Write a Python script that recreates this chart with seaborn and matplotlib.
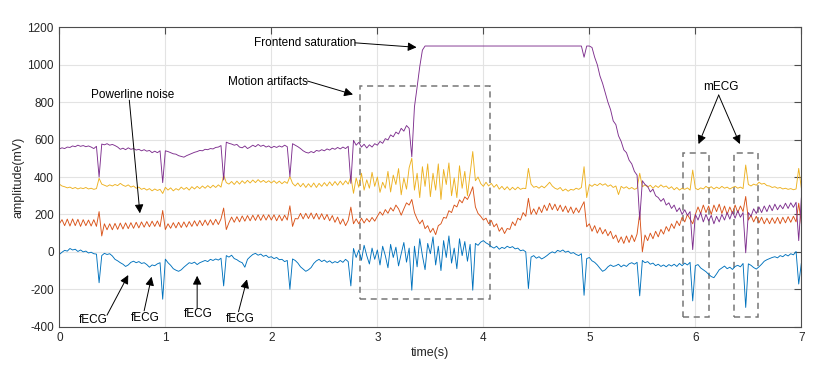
import matplotlib
matplotlib.use("Agg")
import matplotlib.pyplot as plt
from matplotlib.patches import Rectangle
import numpy as np
import pandas as pd
import seaborn as sns

# time axis: 0 .. 7 s, one sample every 25 ms (281 samples)
time_s = np.round(np.arange(281) * 0.025, 3)

# fECG-dominant channel (blue)
ch_blue = [
    -14, -2, 8, 4, 18, 10, 14, 2, 10, 0, 4, -6, -2, -10, -12, -165, -20, -8, -14, -10,
    -22, -40, -48, -58, -66, -78, -70, -56, -50, -58, -52, -62, -58, -68, -82, -70, -74, -64, -58, -253,
    -39, -58, -72, -90, -98, -104, -96, -82, -70, -58, -62, -55, -68, -58, -52, -46, -52, -40, -46, -38,
    -44, -34, -182, -20, -28, -18, -36, -42, -52, -58, -82, -40, -26, -14, -8, -18, -12, -24, -18, -30,
    -26, -36, -30, -42, -40, -52, -46, -200, -38, -46, -60, -80, -92, -104, -96, -84, -62, -48, -40, -52,
    -44, -56, -48, -60, -52, -58, -46, -56, -40, -52, -182, 18, -30, 10, -45, 35, -20, -65, 20, -40,
    10, -70, 30, -20, -85, 40, -30, 25, -75, -10, 50, -55, 20, -205, 30, -80, 70, -20, -95, 45,
    -10, 80, -70, 30, -100, 60, -30, 85, -60, 20, -90, 70, -20, 55, -50, 40, -205, 45, 35, 52,
    60, 48, 40, 28, 20, 30, 14, 24, 18, 30, 22, 28, 16, 20, 6, 10, 0, -196, -28, -20,
    -34, -26, -38, -30, -20, -8, 0, -6, 8, 2, 10, -2, 4, -8, -4, -14, -20, -10, -232, -36,
    -30, -48, -56, -70, -88, -104, -96, -80, -70, -78, -74, -66, -80, -70, -78, -64, -58, -66, -56, -235,
    -46, -58, -52, -66, -60, -74, -66, -78, -70, -80, -68, -76, -66, -78, -62, -74, -60, -70, -56, -262,
    -74, -68, -86, -96, -106, -120, -132, -138, -118, -96, -86, -76, -90, -82, -94, -78, -72, -80, -62, -297,
    -64, -72, -84, -92, -80, -66, -50, -42, -36, -30, -26, -32, -20, -26, -14, -22, -10, -16, 2, -172,
    -60,
]

# channel with powerline interference (orange)
ch_orange = [
    150, 172, 140, 175, 138, 176, 140, 174, 136, 172, 140, 170, 138, 172, 136, 215, 85, 150, 118, 150,
    118, 152, 120, 154, 122, 155, 124, 156, 126, 158, 128, 160, 132, 162, 134, 164, 136, 165, 134, 221,
    119, 150, 126, 156, 128, 158, 130, 160, 132, 162, 136, 166, 138, 168, 140, 170, 142, 172, 144, 174,
    146, 176, 234, 119, 156, 186, 158, 188, 160, 192, 164, 194, 166, 196, 168, 198, 168, 198, 170, 198,
    170, 198, 166, 196, 166, 196, 170, 246, 136, 178, 176, 206, 176, 206, 178, 208, 176, 206, 174, 204,
    172, 200, 166, 194, 158, 186, 148, 176, 140, 168, 239, 150, 176, 150, 180, 154, 178, 160, 184, 164,
    190, 214, 196, 226, 206, 236, 218, 250, 230, 196, 230, 262, 250, 280, 210, 176, 150, 170, 124, 140,
    104, 126, 92, 140, 150, 184, 180, 220, 210, 250, 240, 278, 262, 294, 280, 310, 348, 240, 205, 190,
    170, 180, 150, 168, 134, 150, 110, 130, 98, 125, 120, 160, 140, 180, 170, 210, 190, 286, 200, 230,
    200, 240, 210, 250, 220, 260, 225, 255, 220, 250, 215, 245, 210, 240, 205, 235, 210, 240, 268, 134,
    150, 110, 140, 100, 130, 96, 120, 86, 110, 70, 90, 50, 80, 45, 85, 50, 90, 55, 95, 207,
    0, 90, 60, 100, 70, 110, 80, 120, 95, 135, 110, 150, 125, 165, 140, 185, 160, 200, 175, 150,
    200, 240, 205, 250, 210, 245, 200, 250, 215, 255, 205, 245, 200, 240, 205, 250, 210, 245, 215, 296,
    170, 195, 160, 190, 155, 185, 150, 180, 150, 182, 152, 184, 150, 185, 155, 188, 158, 190, 160, 260,
    150,
]

# channel with motion artifacts (yellow)
ch_yellow = [
    362, 352, 348, 342, 346, 338, 344, 336, 342, 338, 344, 336, 340, 334, 338, 393, 362, 356, 350, 358,
    352, 360, 354, 366, 356, 350, 358, 346, 352, 340, 346, 334, 340, 330, 338, 326, 336, 328, 334, 312,
    345, 330, 342, 326, 338, 330, 346, 334, 344, 330, 348, 336, 350, 338, 352, 340, 354, 342, 356, 344,
    358, 346, 410, 370, 362, 376, 360, 378, 362, 380, 366, 382, 368, 384, 370, 386, 372, 382, 370, 380,
    368, 380, 366, 378, 364, 376, 366, 402, 366, 352, 368, 348, 366, 344, 364, 346, 368, 344, 366, 350,
    370, 352, 374, 354, 376, 356, 378, 358, 380, 362, 402, 313, 395, 345, 420, 330, 385, 340, 425, 350,
    400, 318, 372, 340, 430, 320, 410, 360, 445, 305, 395, 335, 450, 500, 330, 420, 290, 455, 350, 470,
    295, 420, 330, 470, 280, 440, 360, 475, 300, 395, 290, 460, 340, 430, 300, 420, 536, 380, 400, 365,
    350, 372, 352, 366, 345, 360, 335, 350, 332, 348, 330, 345, 332, 346, 334, 340, 338, 446, 362, 345,
    350, 340, 352, 342, 356, 372, 352, 340, 334, 344, 326, 336, 324, 334, 330, 340, 334, 344, 455, 290,
    360, 350, 362, 354, 366, 356, 364, 350, 358, 344, 352, 306, 350, 340, 348, 336, 344, 334, 340, 420,
    348, 358, 346, 356, 340, 354, 344, 358, 346, 352, 338, 348, 332, 344, 330, 340, 334, 342, 330, 437,
    340, 332, 342, 336, 350, 340, 348, 336, 346, 338, 350, 340, 346, 336, 344, 350, 340, 346, 338, 464,
    360, 352, 362, 356, 372, 362, 366, 354, 352, 344, 348, 340, 344, 336, 340, 334, 338, 332, 336, 446,
    340,
]

# channel driven into frontend saturation (purple)
ch_purple = [
    550, 556, 552, 560, 558, 566, 562, 570, 564, 568, 562, 566, 560, 552, 564, 400, 576, 572, 578, 570,
    574, 568, 560, 548, 554, 546, 556, 548, 552, 544, 548, 540, 546, 538, 542, 530, 538, 530, 540, 370,
    540, 536, 530, 524, 522, 514, 510, 506, 514, 520, 526, 532, 536, 542, 540, 548, 546, 552, 550, 558,
    560, 568, 384, 586, 580, 576, 570, 574, 560, 556, 566, 552, 560, 570, 562, 574, 564, 570, 560, 566,
    556, 564, 558, 566, 560, 570, 562, 402, 578, 570, 562, 552, 540, 532, 528, 536, 530, 542, 538, 546,
    540, 550, 544, 554, 548, 558, 550, 560, 552, 564, 366, 596, 570, 585, 560, 575, 555, 572, 560, 578,
    570, 590, 580, 605, 598, 625, 615, 640, 630, 660, 645, 675, 660, 508, 775, 880, 990, 1078, 1100, 1100,
    1100, 1100, 1100, 1100, 1100, 1100, 1100, 1100, 1100, 1100, 1100, 1100, 1100, 1100, 1100, 1100, 1100, 1100, 1100, 1100,
    1100, 1100, 1100, 1100, 1100, 1100, 1100, 1100, 1100, 1100, 1100, 1100, 1100, 1100, 1100, 1100, 1100, 1100, 1100, 1100,
    1100, 1100, 1100, 1100, 1100, 1100, 1100, 1100, 1100, 1100, 1100, 1100, 1100, 1100, 1100, 1100, 1100, 1100, 1040, 1100,
    1100, 1092, 1040, 1000, 940, 900, 850, 800, 760, 700, 680, 620, 590, 545, 530, 490, 470, 430, 410, 172,
    380, 360, 350, 320, 335, 300, 290, 270, 285, 250, 262, 232, 250, 215, 235, 200, 225, 195, 215, 12,
    200, 170, 210, 160, 200, 165, 195, 150, 190, 160, 200, 170, 210, 175, 215, 180, 220, 185, 210, -5,
    210, 190, 230, 205, 240, 210, 245, 215, 250, 220, 255, 225, 250, 230, 260, 232, 262, 238, 265, 60,
    290,
]

CHANNELS = ["blue", "orange", "yellow", "purple"]
PALETTE = {"blue": "#0072BD", "orange": "#D95319", "yellow": "#EDB120", "purple": "#7E2F8E"}

sns.set_style("white")
plt.rcParams["font.family"] = ["Liberation Sans", "DejaVu Sans"]
plt.rcParams["axes.unicode_minus"] = False

df = pd.concat(
    [pd.DataFrame({"t": time_s, "v": vals, "ch": name})
     for name, vals in zip(CHANNELS, [ch_blue, ch_orange, ch_yellow, ch_purple])],
    ignore_index=True,
)

fig = plt.figure(figsize=(8.3, 3.67), dpi=100)
ax = fig.add_axes([0.0715, 0.1098, 0.894, 0.8158])

sns.lineplot(data=df, x="t", y="v", hue="ch", hue_order=CHANNELS, palette=PALETTE,
             linewidth=0.65, legend=False, ax=ax, estimator=None, sort=False)

ax.set_xlim(0, 7)
ax.set_ylim(-400, 1200)
ax.set_xticks(range(0, 8))
ax.set_yticks(range(-400, 1201, 200))
ax.grid(True, color="#e3e3e3", linewidth=0.8)
ax.set_axisbelow(True)
for sp in ax.spines.values():
    sp.set_color("#4d4d4d")
    sp.set_linewidth(0.8)
ax.tick_params(direction="in", length=5, width=0.8, color="#4d4d4d",
               top=True, right=True, labelsize=8.5, labelcolor="#262626", pad=4)
ax.set_xlabel("time(s)", fontsize=9, color="#262626", labelpad=2)
ax.set_ylabel("amplitude(mV)", fontsize=9, color="#262626", labelpad=2)

# dashed boxes
box_kw = dict(fill=False, edgecolor="#777777", linewidth=1.1, linestyle=(0, (4, 3)))
ax.add_patch(Rectangle((2.84, -250), 1.22, 1138, **box_kw))
ax.add_patch(Rectangle((5.88, -347), 0.25, 873, **box_kw))
ax.add_patch(Rectangle((6.36, -347), 0.23, 873, **box_kw))

arrow = dict(arrowstyle="-|>", color="black", lw=0.7, mutation_scale=13, shrinkA=0, shrinkB=0)
txt = dict(fontsize=8.5, ha="center", va="center", color="black")

ax.annotate("", xy=(3.37, 1093), xytext=(2.79, 1117), arrowprops=arrow)
ax.text(2.32, 1114, "Frontend saturation", **txt)
ax.annotate("", xy=(2.77, 841), xytext=(2.34, 913), arrowprops=arrow)
ax.text(1.97, 909, "Motion artifacts", **txt)
ax.annotate("", xy=(0.76, 206), xytext=(0.66, 811), arrowprops=arrow)
ax.text(0.69, 838, "Powerline noise", **txt)
ax.annotate("", xy=(6.03, 576), xytext=(6.22, 838), arrowprops=arrow)
ax.annotate("", xy=(6.42, 576), xytext=(6.22, 838), arrowprops=arrow)
ax.text(6.24, 879, "mECG", **txt)

fecg = [((0.32, -364), (0.45, -338), (0.65, -124)),
        ((0.815, -356), (0.80, -315), (0.87, -133)),
        ((1.31, -334), (1.30, -302), (1.30, -128)),
        ((1.71, -361), (1.69, -320), (1.77, -147))]
for lbl, start, tip in fecg:
    ax.annotate("", xy=tip, xytext=start, arrowprops=arrow)
    ax.text(lbl[0], lbl[1], "fECG", **txt)

fig.savefig("out.png", dpi=100)
